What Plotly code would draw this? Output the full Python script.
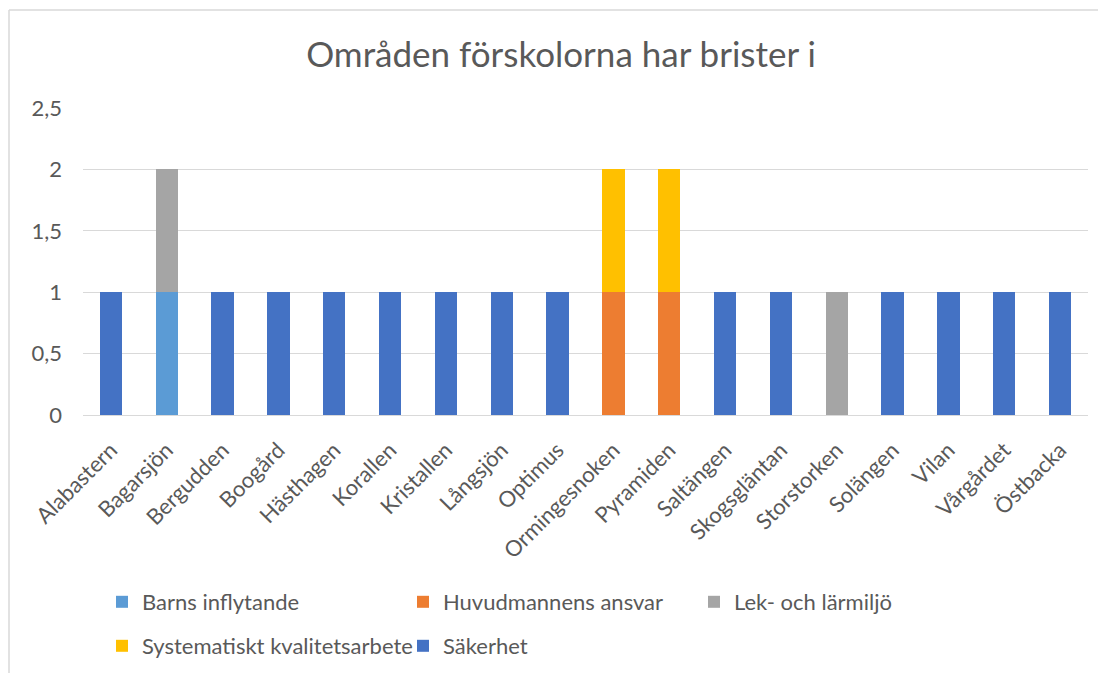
import plotly.graph_objects as go

categories = ["Alabastern", "Bagarsjön", "Bergudden", "Boogård", "Hästhagen", "Korallen",
              "Kristallen", "Långsjön", "Optimus", "Ormingesnoken", "Pyramiden", "Saltängen",
              "Skogsgläntan", "Storstorken", "Solängen", "Vilan", "Vårgårdet", "Östbacka"]

barns_inflytande = [0, 1, 0, 0, 0, 0, 0, 0, 0, 0, 0, 0, 0, 0, 0, 0, 0, 0]
huvudmannens_ansvar = [0, 0, 0, 0, 0, 0, 0, 0, 0, 1, 1, 0, 0, 0, 0, 0, 0, 0]
lek_och_larmiljo = [0, 1, 0, 0, 0, 0, 0, 0, 0, 0, 0, 0, 0, 1, 0, 0, 0, 0]
systematiskt = [0, 0, 0, 0, 0, 0, 0, 0, 0, 1, 1, 0, 0, 0, 0, 0, 0, 0]
sakerhet = [1, 0, 1, 1, 1, 1, 1, 1, 1, 0, 0, 1, 1, 0, 1, 1, 1, 1]

y_ticks = [0, 0.5, 1, 1.5, 2, 2.5]

series = [
    ("Barns inflytande", barns_inflytande, "#5B9BD5", "legend"),
    ("Huvudmannens ansvar", huvudmannens_ansvar, "#ED7D31", "legend2"),
    ("Lek- och lärmiljö", lek_och_larmiljo, "#A5A5A5", "legend3"),
    ("Systematiskt kvalitetsarbete", systematiskt, "#FFC000", "legend4"),
    ("Säkerhet", sakerhet, "#4472C4", "legend5"),
]

TXT = "#595959"
GRID = "#D9D9D9"
FONT = "Lato"
FS = 22

# page has an 8px body margin; work in page coordinates and convert
OFF = 8
W, H = 1106 - OFF, 673 - OFF
PL, PR, PT, PB = 83, 1088, 108, 415  # plot area in page pixels
ML, MR, MT, MB = PL - OFF, W - (PR - OFF), PT - OFF, H - (PB - OFF)
PW, PH = W - ML - MR, H - MT - MB


def px2x(px):
    return (px - OFF - ML) / PW


def px2y(py):
    return 1 - (py - OFF - MT) / PH


fig = go.Figure()
for name, vals, color, lg in series:
    fig.add_trace(go.Bar(
        name=name, x=categories, y=vals, marker_color=color,
        marker_line_width=0, legend=lg,
    ))

legend_pos = {
    "legend": (122, 602),
    "legend2": (423, 602),
    "legend3": (714, 602),
    "legend4": (122, 646),
    "legend5": (423, 646),
}
legend_kw = {}
for key, (cx, cy) in legend_pos.items():
    legend_kw[key] = dict(
        x=px2x(cx - 20), y=px2y(cy), xanchor="left", yanchor="middle",
        orientation="h", bgcolor="rgba(0,0,0,0)", borderwidth=0,
        font=dict(family=FONT, size=FS, color=TXT),
    )

fig.update_layout(
    width=W, height=H,
    margin=dict(l=ML, r=MR, t=MT, b=MB, autoexpand=False),
    paper_bgcolor="white", plot_bgcolor="white",
    barmode="stack", bargap=0.6,
    separators=", ",
    font=dict(family=FONT, size=FS, color=TXT),
    title=dict(text="Områden förskolorna har brister i", x=(561 - OFF) / W, xref="container",
               xanchor="center", y=1 - (55 - OFF) / H, yref="container", yanchor="middle",
               font=dict(family=FONT, size=35, color=TXT)),
    showlegend=True,
    **legend_kw,
)
fig.update_xaxes(tickangle=-45, showgrid=False, showline=False, ticks="",
                 ticklabelstandoff=17, automargin=False,
                 tickfont=dict(family=FONT, size=FS, color=TXT))
fig.update_yaxes(range=[0, 2.5], tickvals=y_ticks, tickformat=".1~f",
                 showgrid=True, gridcolor=GRID, gridwidth=1, zeroline=True,
                 zerolinecolor=GRID, zerolinewidth=1, showline=False, ticks="",
                 ticklabelstandoff=20, automargin=False,
                 tickfont=dict(family=FONT, size=FS, color=TXT))

# chart border (top and left edges visible)
fig.add_shape(type="line", xref="paper", yref="paper",
              x0=px2x(9), x1=px2x(1120), y0=px2y(10), y1=px2y(10),
              line=dict(color=GRID, width=1.5))
fig.add_shape(type="line", xref="paper", yref="paper",
              x0=px2x(9), x1=px2x(9), y0=px2y(10), y1=px2y(690),
              line=dict(color=GRID, width=1.5))

fig.write_html("out.html")
